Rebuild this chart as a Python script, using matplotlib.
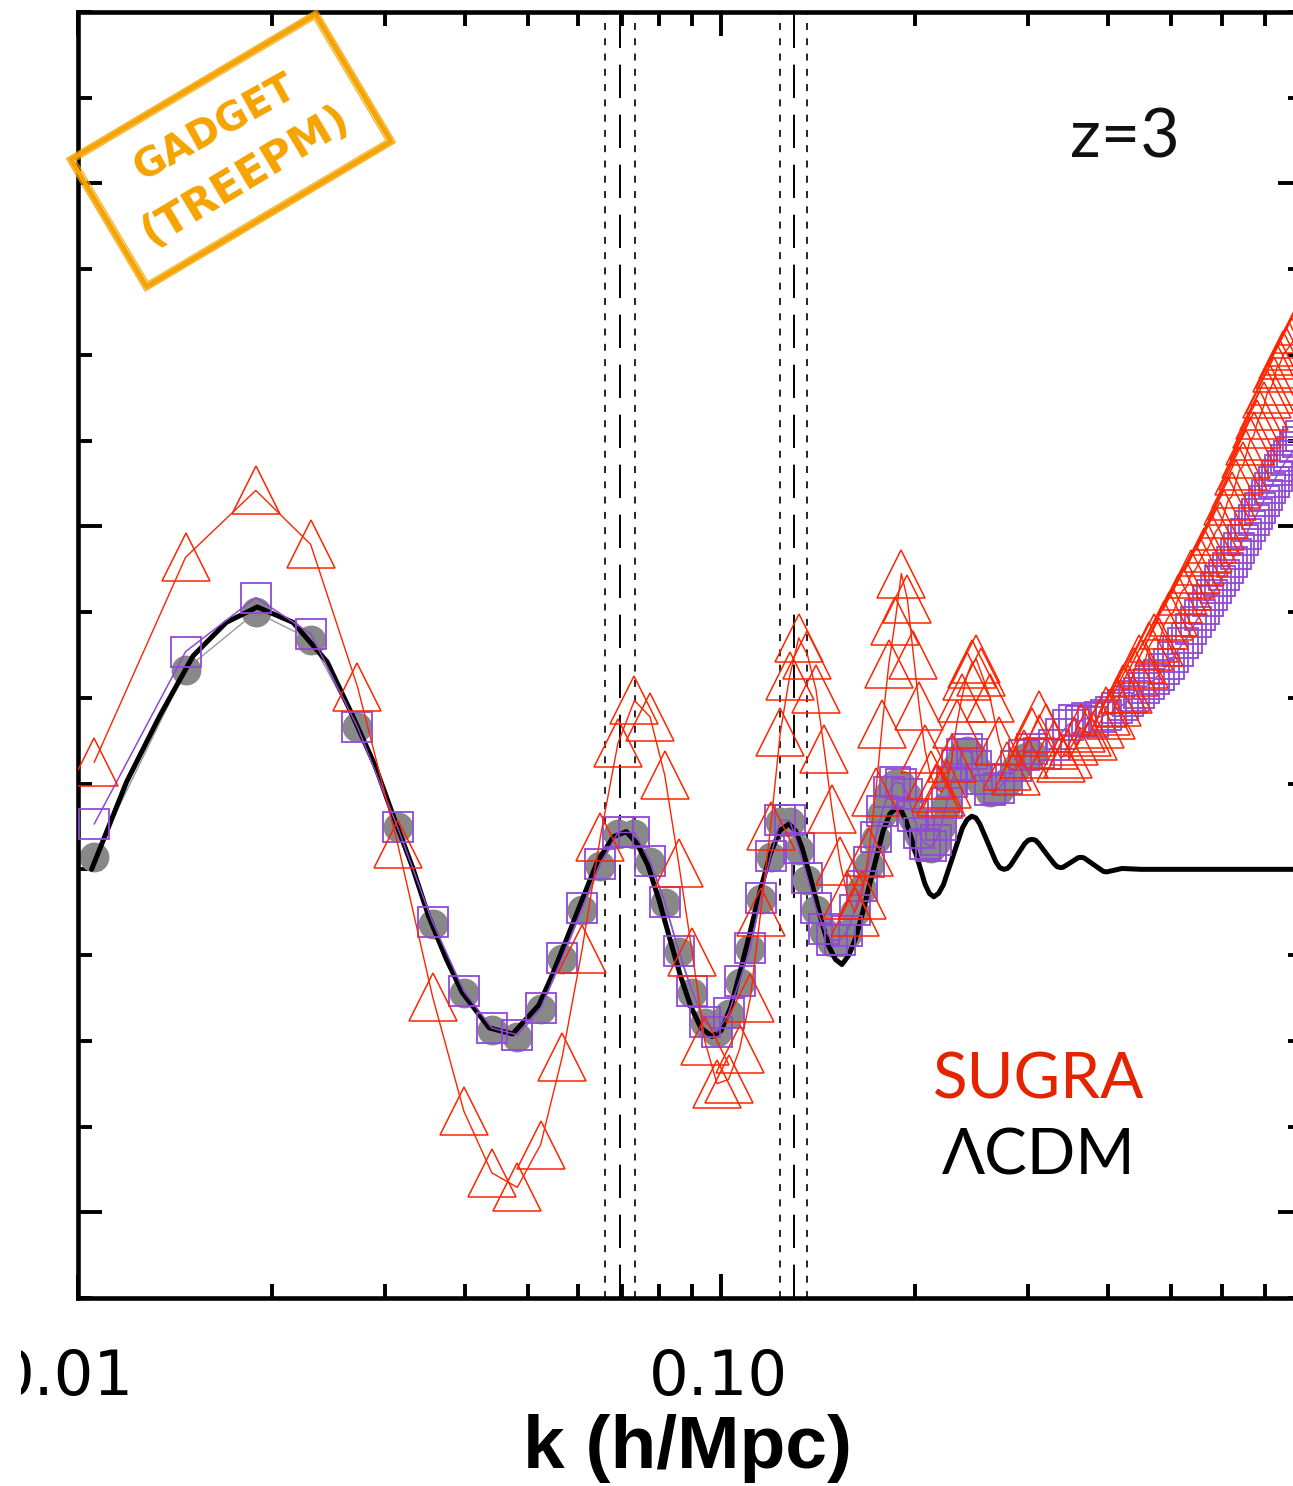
import matplotlib
matplotlib.use('Agg')
import matplotlib.pyplot as plt
import matplotlib.ticker as ticker
import matplotlib.transforms as mtransforms
from matplotlib.patches import Rectangle

plt.rcParams['lines.scale_dashes'] = False

#
# data: P(k) / P_nowiggle - 1, in percent
#

# linear theory LCDM wiggles
k_lin = [0.0105, 0.0119, 0.0134, 0.0151, 0.0170, 0.0190, 0.0216, 0.0244, 0.0267, 0.0290,
         0.0310, 0.0331, 0.0351, 0.0374, 0.0396, 0.0436, 0.0474, 0.0521, 0.0545, 0.0581,
         0.0612, 0.0643, 0.0680, 0.0712, 0.0740, 0.0769, 0.0800, 0.0830, 0.0865, 0.0897,
         0.0930, 0.0968, 0.1000, 0.1036, 0.1070, 0.1111, 0.1150, 0.1191, 0.1233, 0.1275,
         0.1305, 0.1336, 0.1370, 0.1402, 0.1434, 0.1471, 0.1505, 0.1541, 0.1580, 0.1619,
         0.1660, 0.1701, 0.1745, 0.1786, 0.1830, 0.1877, 0.1907, 0.1938, 0.2005, 0.2074,
         0.2107, 0.2141, 0.2178, 0.2216, 0.2292, 0.2371, 0.2412, 0.2453, 0.2489, 0.2524,
         0.2598, 0.2673, 0.2711, 0.2752, 0.2786, 0.2820, 0.2891, 0.2965, 0.3003, 0.3041,
         0.3081, 0.3118, 0.3201, 0.3290, 0.3330, 0.3373, 0.3402, 0.3495, 0.3589, 0.3622,
         0.3664, 0.3794, 0.3929, 0.3975, 0.4200, 0.4500, 0.8000]
dp_lin = [0.00, 1.02, 1.79, 2.49, 2.88, 3.06, 2.88, 2.42, 1.80, 1.20,
          0.60, 0.03, -0.55, -1.05, -1.44, -1.85, -1.92, -1.58, -1.25, -0.73,
          -0.30, 0.10, 0.38, 0.44, 0.30, 0.05, -0.35, -0.78, -1.25, -1.60,
          -1.85, -1.95, -1.88, -1.60, -1.20, -0.71, -0.25, 0.17, 0.45, 0.53,
          0.45, 0.25, -0.04, -0.33, -0.62, -0.90, -1.05, -1.11, -1.00, -0.80,
          -0.50, -0.18, 0.15, 0.45, 0.65, 0.72, 0.68, 0.57, 0.20, -0.17,
          -0.28, -0.32, -0.28, -0.18, 0.15, 0.48, 0.58, 0.62, 0.60, 0.53,
          0.31, 0.09, 0.02, 0.00, 0.01, 0.05, 0.175, 0.30, 0.34, 0.35,
          0.34, 0.30, 0.185, 0.07, 0.03, 0.02, 0.025, 0.08, 0.135, 0.14,
          0.134, 0.055, -0.024, -0.03, 0.01, 0.00, 0.00]

# k bins of the N-body spectra
k_sim = [0.0106, 0.0147, 0.0189, 0.0230, 0.0272, 0.0314, 0.0356, 0.0398, 0.0440, 0.0482,
         0.0524, 0.0566, 0.0608, 0.0649, 0.0691, 0.0733, 0.0775, 0.0817, 0.0859, 0.0901,
         0.0943, 0.0985, 0.1027, 0.1068, 0.1110, 0.1152, 0.1194, 0.1236, 0.1278, 0.1320,
         0.1362, 0.1404, 0.1446, 0.1487, 0.1529, 0.1571, 0.1613, 0.1655, 0.1697, 0.1739,
         0.1781, 0.1823, 0.1865, 0.1906, 0.1948, 0.1990, 0.2032, 0.2074, 0.2116, 0.2158,
         0.2200, 0.2242, 0.2284, 0.2325, 0.2367, 0.2409, 0.2451, 0.2493, 0.2535,
         0.2619, 0.2703, 0.2786, 0.2870, 0.2954, 0.3038, 0.3121, 0.3205, 0.3289, 0.3373,
         0.3457, 0.3540, 0.3624, 0.3708, 0.3792, 0.3876, 0.3959, 0.4043, 0.4127, 0.4211,
         0.4295, 0.4379, 0.4462, 0.4546, 0.4630, 0.4714, 0.4798, 0.4881, 0.4965, 0.5049,
         0.5133, 0.5216, 0.5300, 0.5384, 0.5468, 0.5552, 0.5635, 0.5719, 0.5803, 0.5887,
         0.5971, 0.6054, 0.6138, 0.6222, 0.6306, 0.6390, 0.6474, 0.6557, 0.6641, 0.6725,
         0.6809, 0.6893, 0.6976, 0.7060, 0.7144, 0.7228, 0.7312, 0.7395, 0.7479, 0.7563,
         0.7647, 0.7731, 0.7814, 0.7898, 0.7982]

# LCDM run (grey circles), first bins only
dp_lcdm = [0.14, 2.33, 3.00, 2.68, 1.66, 0.49, -0.64, -1.44, -1.87, -1.95,
           -1.63, -1.05, -0.47, 0.04, 0.41, 0.41, 0.09, -0.39, -0.97, -1.44,
           -1.79, -1.90, -1.69, -1.32, -0.93, -0.35, 0.14, 0.55, 0.55, 0.23,
           -0.12, -0.47, -0.73, -0.85, -0.85, -0.75, -0.50, -0.23, 0.05, 0.35,
           0.65, 0.88, 1.00, 0.98, 0.85, 0.60, 0.40, 0.28, 0.25, 0.32,
           0.50, 0.75, 1.00, 1.20, 1.32, 1.38, 1.32, 1.18, 1.02,
           0.90, 0.92, 1.02, 1.18, 1.30, 1.35]

# TreePM run (purple squares)
dp_treepm = [0.53, 2.54, 3.17, 2.75, 1.66, 0.49, -0.62, -1.42, -1.85, -1.93,
             -1.62, -1.03, -0.45, 0.06, 0.43, 0.43, 0.10, -0.38, -0.95, -1.42,
             -1.78, -1.90, -1.68, -1.30, -0.92, -0.33, 0.16, 0.57, 0.57, 0.25,
             -0.10, -0.45, -0.70, -0.83, -0.83, -0.72, -0.48, -0.20, 0.08, 0.38,
             0.68, 0.90, 1.02, 1.00, 0.88, 0.62, 0.42, 0.30, 0.27, 0.34,
             0.52, 0.77, 1.02, 1.22, 1.34, 1.40, 1.34, 1.20, 1.05,
             0.92, 0.95, 1.05, 1.20, 1.33, 1.40, 1.36, 1.34, 1.45, 1.58,
             1.68, 1.74, 1.73, 1.76, 1.72, 1.78, 1.80, 1.83, 1.88, 1.92,
             1.96, 2.02, 2.06, 2.12, 2.16, 2.22, 2.27, 2.34, 2.40, 2.48,
             2.55, 2.64, 2.70, 2.80, 2.88, 2.97, 3.04, 3.13, 3.20, 3.28,
             3.36, 3.43, 3.52, 3.59, 3.68, 3.75, 3.84, 3.91, 4.00, 4.07,
             4.15, 4.22, 4.30, 4.37, 4.45, 4.52, 4.59, 4.66, 4.71, 4.77,
             4.82, 4.87, 4.93, 4.99, 5.05]

# SUGRA run (red triangles)
dp_sugra = [1.25, 3.64, 4.42, 3.79, 2.13, 0.30, -1.49, -2.82, -3.54, -3.71,
            -3.21, -2.19, -0.93, 0.38, 1.47, 1.97, 1.78, 1.10, 0.07, -0.96,
            -2.00, -2.50, -2.45, -2.10, -1.50, -0.50, 0.50, 1.60, 2.25, 2.70,
            2.50, 2.10, 1.40, 0.70, 0.10, -0.30, -0.50, -0.30, 0.20, 0.90,
            1.70, 2.40, 2.90, 3.45, 3.15, 2.50, 1.90, 1.40, 1.10, 0.95,
            0.90, 1.00, 1.30, 1.70, 2.00, 2.25, 2.40, 2.45, 2.30,
            2.00, 1.50, 1.20, 1.15, 1.35, 1.60, 1.80, 1.65, 1.45, 1.30,
            1.35, 1.50, 1.65, 1.60, 1.55, 1.70, 1.85, 1.80, 1.95, 2.10,
            2.10, 2.30, 2.45, 2.40, 2.60, 2.70, 2.65, 2.85, 2.95, 3.00,
            3.15, 3.25, 3.30, 3.45, 3.50, 3.60, 3.70, 3.75, 3.85, 3.95,
            4.00, 4.15, 4.30, 4.35, 4.50, 4.65, 4.70, 4.85, 5.00, 5.05,
            5.20, 5.30, 5.40, 5.55, 5.60, 5.70, 5.85, 5.90, 6.00, 6.05,
            6.10, 6.15, 6.25, 6.30, 6.40]

# BAO scales and their widths
k_bao = [0.0697, 0.1299]
k_bao_err = [0.0659, 0.0735, 0.1233, 0.1360]

xtick_vals = [0.01, 0.1]
xtick_text = ['0.01', '0.10']

ORANGE = '#f5a300'
RED = '#ff2400'
PURPLE = '#9148d8'

fig = plt.figure(figsize=(12.93, 14.86), dpi=100)
ax = fig.add_axes([78 / 1293, 188 / 1486, 1224 / 1293, 1286 / 1486])

for k in k_bao_err:
    ax.axvline(k, color='black', lw=1.2, ls=(0, (5, 6)), zorder=1)
for k in k_bao:
    ax.axvline(k, color='black', lw=1.4, ls=(0, (24, 12)), zorder=1)

ax.plot(k_sim[:len(dp_lcdm)], dp_lcdm, color='#9a9a9a', lw=1.0, marker='o', ms=21.5,
        mfc='#888888', mec='none', zorder=2)
ax.plot(k_lin, dp_lin, color='black', lw=3.6, zorder=3, solid_capstyle='round',
        solid_joinstyle='round')
ax.plot(k_sim, dp_treepm, color=PURPLE, lw=1.1, marker='s', ms=21.5,
        mfc='none', mec=PURPLE, mew=1.3, zorder=4)
ax.plot(k_sim, dp_sugra, color=RED, lw=1.0, marker='^', ms=34.5,
        mfc='none', mec=RED, mew=1.1, zorder=5)

# axes
ax.set_xscale('log')
ax.set_xlim(0.01, 0.8)
ax.set_ylim(-5, 10)
ax.xaxis.set_major_locator(ticker.FixedLocator([0.01, 0.1, 1.0]))
ax.xaxis.set_minor_locator(ticker.LogLocator(base=10, subs=range(2, 10)))
ax.xaxis.set_minor_formatter(ticker.NullFormatter())
ax.yaxis.set_major_locator(ticker.MultipleLocator(4))
ax.yaxis.set_minor_locator(ticker.MultipleLocator(1))
ax.tick_params(which='both', direction='in', top=True, right=True,
               labelleft=False, labelbottom=False, width=2.8)
ax.tick_params(which='major', length=17)
ax.tick_params(which='minor', length=10)
for s in ax.spines.values():
    s.set_linewidth(3.3)

# tick labels; the page is trimmed a little left of the first one
xtrans = mtransforms.blended_transform_factory(ax.transData, ax.transAxes)
page = mtransforms.TransformedBbox(mtransforms.Bbox([[21 / 1293, 0], [1, 1]]), fig.transFigure)
for kv, txt, dx in zip(xtick_vals, xtick_text, [-14, -3]):
    t = ax.text(kv, -0.0754, txt, ha='center', va='baseline', fontsize=45,
                family='DejaVu Sans',
                transform=xtrans + mtransforms.ScaledTranslation(dx / 100, 0, fig.dpi_scale_trans))
    t.set_clip_box(page)
    t.set_clip_on(True)

ax.set_xlabel('k (h/Mpc)', fontsize=54, family='Liberation Sans', fontweight='bold',
              va='baseline')
ax.xaxis.set_label_coords(0.498, -0.1322)

# labels
ax.text(0.855, 0.902, 'z=3', transform=ax.transAxes, ha='center', va='center',
        fontsize=49, family=['Lato', 'DejaVu Sans'], color='#111111')
ax.text(0.785, 0.169, 'SUGRA', transform=ax.transAxes, ha='center', va='center',
        fontsize=46, color='#e42400', family=['Lato', 'DejaVu Sans'])
ax.text(0.785, 0.110, '\u039bCDM', transform=ax.transAxes, ha='center', va='center',
        fontsize=46, color='black', family=['Lato', 'DejaVu Sans'])

# code stamp in the upper left corner
cx, cy, w, h = 2.31, 13.355, 2.84, 1.48
for dw, dh, lw, a in [(0, 0, 3.4, 1.0), (0.07, 0.06, 1.0, 0.85), (-0.07, -0.07, 1.0, 0.8),
                      (0.03, -0.03, 1.6, 0.9)]:
    fig.add_artist(Rectangle((cx - (w + dw) / 2, cy - (h + dh) / 2), w + dw, h + dh,
                             angle=30.7, rotation_point='center', fill=False, ec=ORANGE,
                             lw=lw, alpha=a, transform=fig.dpi_scale_trans))
fig.text(2.15, 13.58, 'GADGET', transform=fig.dpi_scale_trans, rotation=29,
         rotation_mode='anchor', ha='center', va='center', color=ORANGE,
         fontsize=28, family='DejaVu Sans', fontweight='bold')
fig.text(2.45, 13.10, '(TREEPM)', transform=fig.dpi_scale_trans, rotation=31,
         rotation_mode='anchor', ha='center', va='center', color=ORANGE,
         fontsize=31, family='DejaVu Sans', fontweight='bold')

fig.savefig('out.png', dpi=100)
